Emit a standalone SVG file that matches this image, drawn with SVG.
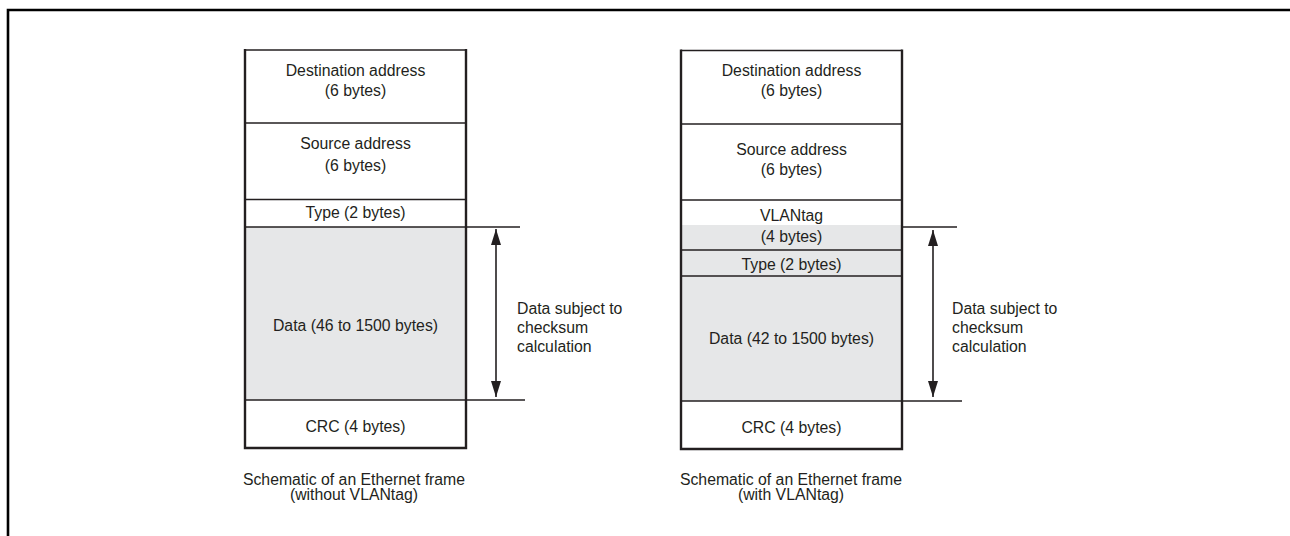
<svg xmlns="http://www.w3.org/2000/svg" width="1290" height="536" viewBox="0 0 1290 536">
<style>
  text { font-family: "Liberation Sans", Arial, sans-serif; font-size: 15.8px; fill: #231f20; text-anchor: middle; }
  .lbl { text-anchor: start; }
  .cap { font-size: 15.8px; }
  .sep { stroke: #231f20; stroke-width: 1.4; fill: none; }
  .side { stroke: #231f20; stroke-width: 2.4; fill: none; }
  .grey { fill: #e6e7e8; }
  .dim { stroke: #231f20; stroke-width: 1.3; fill: none; }
  .arr { stroke: #231f20; stroke-width: 1.6; fill: none; marker-start: url(#ah); marker-end: url(#ah); }
</style>
<defs>
  <marker id="ah" viewBox="0 0 16 10" refX="16" refY="5" markerWidth="16" markerHeight="10" markerUnits="userSpaceOnUse" orient="auto-start-reverse">
    <path d="M0,0 L16,5 L0,10 z" fill="#231f20"/>
  </marker>
</defs>
<rect width="1290" height="536" fill="#ffffff"/>
<!-- outer frame -->
<g id="frame">
  <path d="M8,536 L8,10 L1290,10" fill="none" stroke="#000" stroke-width="2.6"/>
</g>

<!-- Left frame (without VLANtag) -->
<g id="left-frame">
  <rect class="grey" x="245" y="227" width="221" height="173"/>
  <g id="l-dest">
    <text x="355.5" y="76">Destination address</text>
    <text x="355.5" y="96">(6 bytes)</text>
  </g>
  <g id="l-src">
    <line class="sep" x1="245" y1="123" x2="466" y2="123"/>
    <text x="355.5" y="149">Source address</text>
    <text x="355.5" y="171">(6 bytes)</text>
  </g>
  <g id="l-type">
    <line class="sep" x1="245" y1="199.5" x2="466" y2="199.5"/>
    <text x="355.5" y="218">Type (2 bytes)</text>
  </g>
  <g id="l-data">
    <line class="sep" x1="245" y1="227" x2="466" y2="227"/>
    <text x="355.5" y="331">Data (46 to 1500 bytes)</text>
  </g>
  <g id="l-crc">
    <line class="sep" x1="245" y1="400" x2="466" y2="400"/>
    <text x="355.5" y="431.5">CRC (4 bytes)</text>
  </g>
  <line class="sep" x1="245" y1="50" x2="466" y2="50"/>
  <path class="side" d="M245,49 L245,448 L466,448 L466,49"/>
  <g id="l-caption">
    <text class="cap" x="354" y="485">Schematic of an Ethernet frame</text>
    <text class="cap" x="354" y="500">(without VLANtag)</text>
  </g>
</g>

<!-- Right frame (with VLANtag) -->
<g id="right-frame">
  <rect class="grey" x="681" y="225" width="221" height="176"/>
  <g id="r-dest">
    <text x="791.5" y="76">Destination address</text>
    <text x="791.5" y="96">(6 bytes)</text>
  </g>
  <g id="r-src">
    <line class="sep" x1="681" y1="124" x2="902" y2="124"/>
    <text x="791.5" y="155">Source address</text>
    <text x="791.5" y="175">(6 bytes)</text>
  </g>
  <g id="r-vlan">
    <line class="sep" x1="681" y1="200" x2="902" y2="200"/>
    <text x="791.5" y="221">VLANtag</text>
    <text x="791.5" y="242">(4 bytes)</text>
  </g>
  <g id="r-type">
    <line class="sep" x1="681" y1="250" x2="902" y2="250"/>
    <text x="791.5" y="270">Type (2 bytes)</text>
  </g>
  <g id="r-data">
    <line class="sep" x1="681" y1="276" x2="902" y2="276"/>
    <text x="791.5" y="344">Data (42 to 1500 bytes)</text>
  </g>
  <g id="r-crc">
    <line class="sep" x1="681" y1="401" x2="902" y2="401"/>
    <text x="791.5" y="433">CRC (4 bytes)</text>
  </g>
  <line class="sep" x1="681" y1="50.5" x2="902" y2="50.5"/>
  <path class="side" d="M681,49.5 L681,449 L902,449 L902,49.5"/>
  <g id="r-caption">
    <text class="cap" x="791" y="485">Schematic of an Ethernet frame</text>
    <text class="cap" x="791" y="500">(with VLANtag)</text>
  </g>
</g>

<!-- connectors / dimension markers -->
<g id="connectors">
  <line class="dim" x1="466" y1="227" x2="520" y2="227"/>
  <line class="dim" x1="466" y1="400" x2="525" y2="400"/>
  <line class="arr" x1="496" y1="229" x2="496" y2="397"/>
  <line class="dim" x1="902" y1="227" x2="957" y2="227"/>
  <line class="dim" x1="902" y1="401" x2="962" y2="401"/>
  <line class="arr" x1="933" y1="230" x2="933" y2="397"/>
</g>

<g id="l-note">
  <text class="lbl" x="517" y="313.5">Data subject to</text>
  <text class="lbl" x="517" y="332.5">checksum</text>
  <text class="lbl" x="517" y="351.5">calculation</text>
</g>
<g id="r-note">
  <text class="lbl" x="952" y="314">Data subject to</text>
  <text class="lbl" x="952" y="333">checksum</text>
  <text class="lbl" x="952" y="352">calculation</text>
</g>
</svg>
